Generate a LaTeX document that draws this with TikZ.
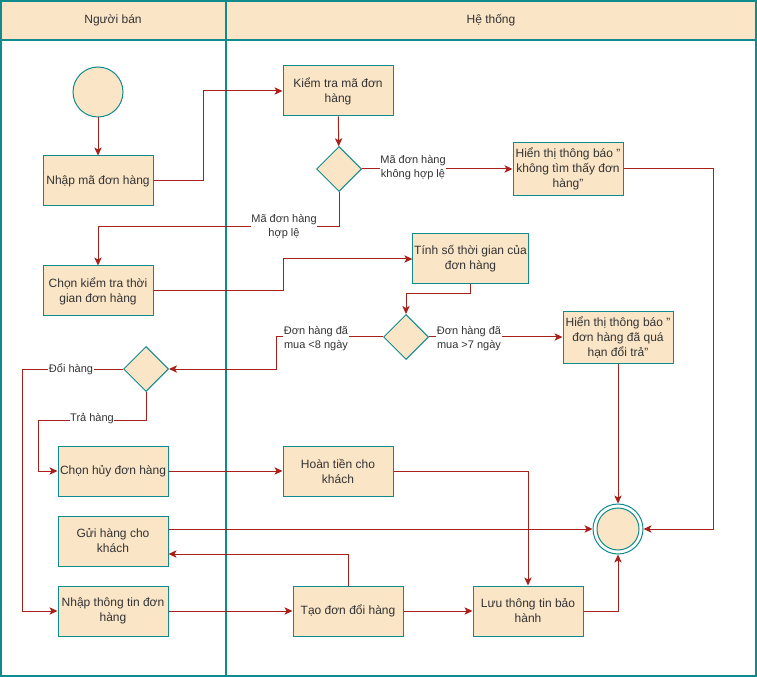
\documentclass[tikz,border=0pt]{standalone}
\usepackage{fontspec}
\setmainfont{Liberation Sans}
\usetikzlibrary{shapes.geometric,arrows.meta,calc}

\definecolor{peach}{HTML}{FAE5C7}
\definecolor{lanecol}{HTML}{0F8B8D}
\definecolor{flow}{HTML}{A8201A}
\definecolor{ink}{HTML}{333333}

\begin{document}
\begin{tikzpicture}[x=0.75pt,y=-0.75pt,
  lane/.style={draw=lanecol, line width=1.5pt},
  lanetitle/.style={text=ink, font=\fontsize{9}{11.25}\selectfont},
  box/.style={draw=lanecol, fill=peach, line width=0.75pt, align=center,
    minimum width=82.5pt, minimum height=37.5pt, inner sep=1pt,
    text=ink, font=\fontsize{9}{11.25}\selectfont},
  decision/.style={diamond, draw=lanecol, fill=peach, line width=0.75pt,
    minimum width=33.75pt, minimum height=33.75pt, inner sep=0pt, aspect=1},
  startnode/.style={circle, draw=lanecol, fill=peach, line width=0.75pt,
    minimum size=37.5pt, inner sep=0pt},
  endouter/.style={circle, draw=lanecol, fill=white, line width=0.75pt,
    minimum size=37.5pt, inner sep=0pt},
  endinner/.style={circle, draw=lanecol, fill=peach, line width=0.75pt,
    minimum size=31.5pt, inner sep=0pt},
  flowedge/.style={draw=flow, line width=0.75pt,
    -{Stealth[length=6pt,width=5.5pt,inset=1.5pt]}},
  guard/.style={fill=white, align=center, text=ink, inner sep=0.5pt,
    font=\fontsize{8.25}{10.5}\selectfont}]

% canvas
\fill[white] (0,0) rectangle (757,677);
\useasboundingbox (0,0) rectangle (757,677);

% swimlanes
\draw[lane, fill=peach] (1,1) rectangle (226,40);
\draw[lane, fill=peach] (226,1) rectangle (756,40);
\draw[lane] (1,1) rectangle (226,676);
\draw[lane] (226,1) rectangle (756,676);
\node[lanetitle] (laneA) at (113,20) {Người bán};
\node[lanetitle] (laneB) at (491,20) {Hệ thống};

% activities
\node[startnode] (start) at (98,92) {};
\node[box] (n1) at (98,181) {Nhập mã đơn hàng};
\node[box] (n2) at (338,91) {Kiểm tra mã đơn\\hàng};
\node[decision] (d1) at (339,169) {};
\node[box, minimum height=39.75pt] (n3) at (568,169) {Hiển thị thông báo "\\không tìm thấy đơn\\hàng"};
\node[box] (n4) at (98,291) {Chọn kiểm tra thời\\gian đơn hàng};
\node[box, minimum width=86.25pt] (n5) at (470.5,259) {Tính số thời gian của\\đơn hàng};
\node[decision] (d2) at (406,337) {};
\node[box, minimum height=39pt] (n6) at (618,338) {Hiển thị thông báo "\\đơn hàng đã quá\\hạn đổi trả"};
\node[decision] (d3) at (146,369) {};
\node[box] (n7) at (113,471) {Chọn hủy đơn hàng};
\node[box] (n8) at (338,471) {Hoàn tiền cho\\khách};
\node[box] (n9) at (113,541) {Gửi hàng cho\\khách};
\node[box] (n10) at (113,611) {Nhập thông tin đơn\\hàng};
\node[box] (n11) at (348,611) {Tạo đơn đổi hàng};
\node[box] (n12) at (528,611) {Lưu thông tin bảo\\hành};
\node[endouter] (end) at (618,529) {};
\node[endinner] (endcore) at (618,529) {};

% connectors
\draw[flowedge] (start) -- (n1);
\draw[flowedge] (n1.east) -- ++(50,0) |- (n2.west);
\draw[flowedge] (n2) -- (d1);
\draw[flowedge] (d1.east) -- (n3.west);
\draw[flowedge] (n3.east) -- ++(90,0) |- (end.east);
\draw[flowedge] (d1.south) -- ++(0,35) -| (n4.north);
\draw[flowedge] (n4.east) -- ++(130,0) |- (n5.west);
\draw[flowedge] (n5.south) -- ++(0,9) -| (d2.north);
\draw[flowedge] (d2.east) -- (d2.east -| n6.west);
\draw[flowedge] (n6.south) -- (end.north);
\draw[flowedge] (d2.west) -- ++(-107,0) |- (d3.east);
\draw[flowedge] (d3.west) -- ++(-101,0) |- (n10.west);
\draw[flowedge] (d3.south) -- ++(0,28) -- ++(-108,0) |- (n7.west);
\draw[flowedge] (n7.east) -- (n8.west);
\draw[flowedge] (n8.east) -| (n12.north);
\draw[flowedge] (n9.east |- end.west) -- (end.west);
\coordinate (n9in) at ($(n9.east)+(0,13)$);
\draw[flowedge] (n11.north) |- (n9in);
\draw[flowedge] (n10.east) -- (n11.west);
\draw[flowedge] (n11.east) -- (n12.west);
\draw[flowedge] (n12.east) -| (end.south);

% guard labels
\node[guard] (g1) at (413,168) {Mã đơn hàng\\không hợp lệ};
\node[guard] (g2) at (284,227) {Mã đơn hàng\\hợp lệ};
\node[guard] (g3) at (469,339) {Đơn hàng đã\\mua >7 ngày};
\node[guard] (g4) at (316,339) {Đơn hàng đã\\mua <8 ngày};
\node[guard] (g5) at (71,369) {Đổi hàng};
\node[guard] (g6) at (92,419) {Trả hàng};

\end{tikzpicture}
\end{document}
